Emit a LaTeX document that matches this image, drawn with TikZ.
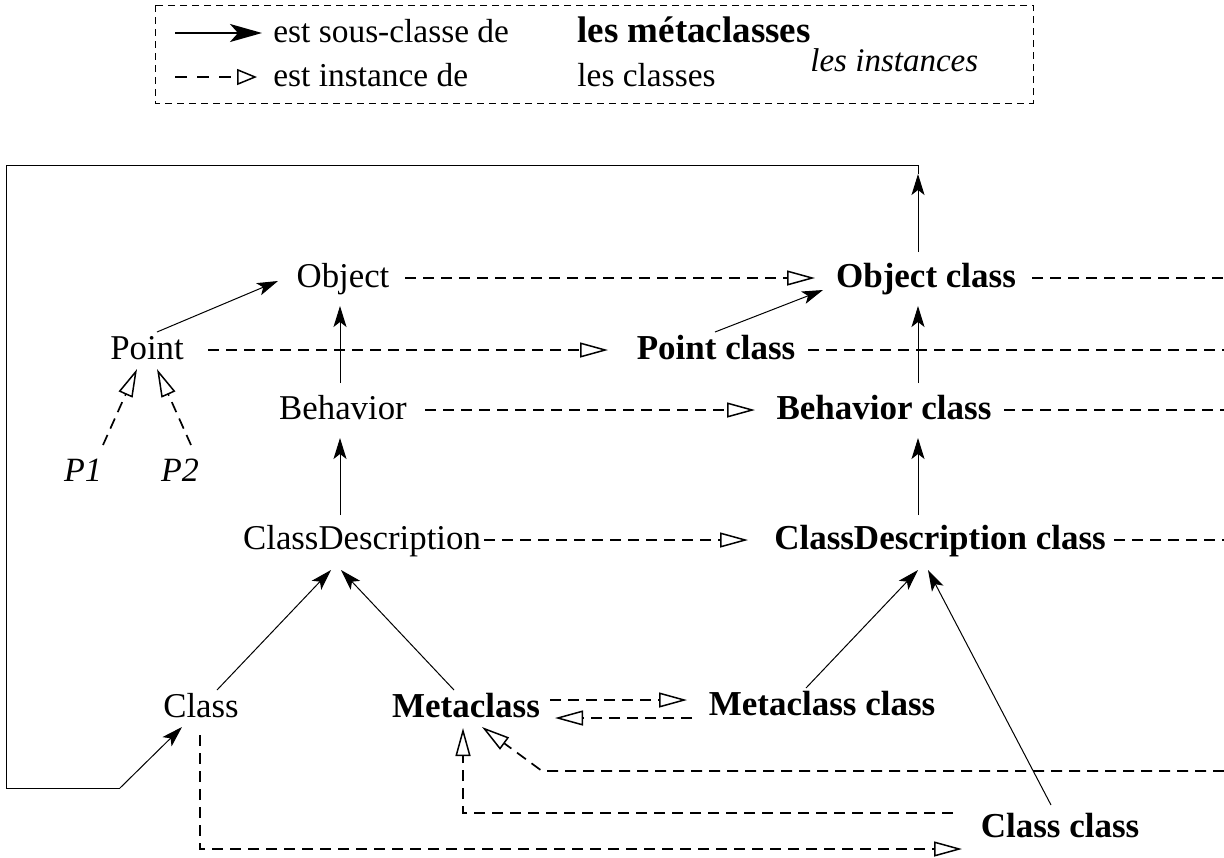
\documentclass[tikz,border=0pt]{standalone}
\usepackage{fontspec}
\setmainfont{Liberation Serif}
\usetikzlibrary{arrows.meta,calc}
\begin{document}
\begin{tikzpicture}[x=0.5pt,y=-0.5pt,
  lbl/.style={inner sep=0pt, text height=1.2em, text depth=0.22em, font=\fontsize{17.4}{20}\selectfont},
  mlbl/.style={lbl, font=\fontsize{17.5}{20}\selectfont\bfseries},
  ilbl/.style={lbl, font=\fontsize{17}{20}\selectfont\itshape},
  glbl/.style={lbl, font=\fontsize{16.7}{20}\selectfont},
  sub/.style={line width=0.5pt, -{Stealth[length=10.5pt,width=6.5pt,inset=2.5pt]}},
  dsh/.style={line width=0.85pt, dash pattern=on 5.5pt off 3.5pt},
  inst/.style={dsh, -{Triangle[open,length=14pt,width=7.5pt,line width=0.75pt]}},
  legbox/.style={line width=0.5pt, dash pattern=on 3.5pt off 2.5pt},
  legsub/.style={line width=1.1pt, -{Stealth[length=16pt,width=9pt,inset=4pt]}},
  leginst/.style={line width=0.8pt, dash pattern=on 6pt off 5pt,
    -{Triangle[open,length=10pt,width=8pt,line width=0.75pt]}}
]
\useasboundingbox (0,0) rectangle (1224,857);

% ---- legend ----
\draw[legbox] (155,5) rectangle (1033,103);
\node[glbl, anchor=west] (l1) at (273,33) {est sous-classe de};
\node[glbl, anchor=west] (l2) at (273,77) {est instance de};
\node[mlbl, anchor=west, font=\fontsize{18.5}{20}\selectfont\bfseries] (l3) at (577,33) {les métaclasses};
\node[glbl, anchor=west] (l4) at (577,77) {les classes};
\node[ilbl, anchor=west, font=\fontsize{16.5}{20}\selectfont\itshape] (l5) at (810,62) {les instances};
\coordinate (la1) at (175,33);
\coordinate (la2) at (175,77);
\draw[legsub] (la1) -- ($(l1.west)+(-11,0)$);
\draw[leginst] (la2) -- ($(l2.west)+(-16,0)$);

% ---- classes and metaclasses ----
\node[lbl]  (obj)   at (343,278)  {Object};
\node[mlbl] (objc)  at (926,278)  {Object class};
\node[lbl]  (pt)    at (147,350)  {Point};
\node[mlbl] (ptc)   at (716,350)  {Point class};
\node[lbl]  (beh)   at (343,410)  {Behavior};
\node[mlbl] (behc)  at (884,410)  {Behavior class};
\node[ilbl] (p1)    at (83,472)   {P1};
\node[ilbl] (p2)    at (180,472)  {P2};
\node[lbl]  (cd)    at (362,540)  {ClassDescription};
\node[mlbl] (cdc)   at (940,540)  {ClassDescription class};
\node[lbl]  (cls)   at (201,708)  {Class};
\node[mlbl] (meta)  at (466,708)  {Metaclass};
\node[mlbl] (metac) at (822,706)  {Metaclass class};
\node[mlbl] (clsc)  at (1060,828) {Class class};

% route of the long subclass link (Object class -> Class)
\coordinate (tr) at (918,165);
\coordinate (tl) at (6,165);
\coordinate (bl) at (6,788);
\coordinate (bk) at (120,788);

% right-hand ends of the instance links to Metaclass
\coordinate (e1) at (1224,278);
\coordinate (e2) at (1224,350);
\coordinate (e3) at (1224,410);
\coordinate (e4) at (1224,540);
\coordinate (e5) at (1224,771);

% ---- subclass links ----
\draw[sub] ($(pt)+(10,-18)$) -- ($(obj)+(-65,3)$);
\draw[sub] ($(beh)+(-3,-27)$) -- ($(obj)+(-3,28)$);
\draw[sub] ($(cd)+(-22,-25)$) -- ($(beh)+(-3,28)$);
\draw[sub] ($(cls)+(16,-18)$) -- ($(cd)+(-31,30)$);
\draw[sub] ($(meta)+(-12,-18)$) -- ($(cd)+(-21,30)$);
\draw[sub] ($(ptc)+(-1,-18)$) -- ($(objc)+(-103,12)$);
\draw[sub] ($(behc)+(34,-27)$) -- ($(objc)+(-8,28)$);
\draw[sub] ($(cdc)+(-22,-25)$) -- ($(behc)+(34,28)$);
\draw[sub] ($(metac)+(-16,-18)$) -- ($(cdc)+(-22,30)$);
\draw[sub] ($(clsc)+(-9,-23)$) -- ($(cdc)+(-12,30)$);
\draw[sub] ($(objc)+(-8,-26)$) -- ($(objc)+(-8,-104)$);
\draw[line width=0.5pt] ($(objc)+(-8,-104)$) -- (tr) -- (tl) -- (bl) -- (bk);
\draw[sub] (bk) -- ($(cls)+(-19,19)$);

% ---- instance links ----
\draw[inst] ($(obj)+(62,0)$) -- ($(objc)+(-111,0)$);
\draw[inst] ($(pt)+(61,0)$) -- ($(ptc)+(-108,0)$);
\draw[inst] ($(beh)+(82,0)$) -- ($(behc)+(-129,0)$);
\draw[inst] ($(cd)+(122,0)$) -- ($(cdc)+(-192,0)$);
\draw[inst] ($(p1)+(20,-27)$) -- ($(pt)+(-10,19)$);
\draw[inst] ($(p2)+(11,-27)$) -- ($(pt)+(10,19)$);
\draw[inst] ($(meta)+(84,-8)$) -- ($(metac)+(-135,-6)$);
\draw[inst] ($(metac)+(-130,12)$) -- ($(meta)+(89,10)$);
\draw[inst] ($(cls)+(-1,27)$) |- ($(clsc)+(-98,21)$);
\draw[inst] ($(clsc)+(-107,-15)$) -| ($(meta)+(-3,20)$);
\draw[inst] (e5) -- ($(meta)+(76,63)$) -- ($(meta)+(16,19)$);

% metaclasses are instances of Metaclass
\draw[dsh] ($(objc)+(106,0)$) -- (e1);
\draw[dsh] ($(ptc)+(92,0)$) -- (e2);
\draw[dsh] ($(behc)+(120,0)$) -- (e3);
\draw[dsh] ($(cdc)+(174,0)$) -- (e4);
\end{tikzpicture}
\end{document}
